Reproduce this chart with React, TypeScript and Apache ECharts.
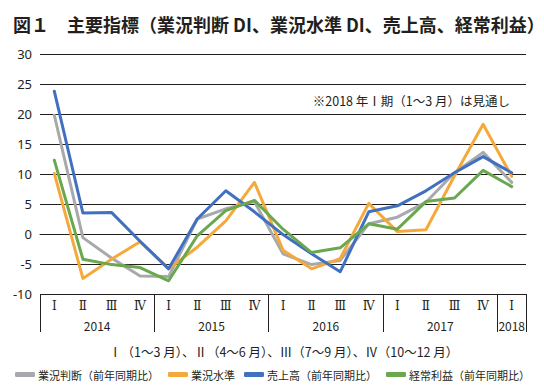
import React, { useEffect, useRef } from "react";
import * as echarts from "echarts";

const quarters = ["Ⅰ", "Ⅱ", "Ⅲ", "Ⅳ", "Ⅰ", "Ⅱ", "Ⅲ", "Ⅳ", "Ⅰ", "Ⅱ", "Ⅲ", "Ⅳ", "Ⅰ", "Ⅱ", "Ⅲ", "Ⅳ", "Ⅰ"];
const years = ["2014", "2015", "2016", "2017", "2018"];
const yearBounds = [0, 4, 8, 12, 16, 17];
const yearCenters = [2, 6, 10, 14, 16.5];

const seriesNames = ["業況判断（前年同期比）", "業況水準", "売上高（前年同期比）", "経常利益（前年同期比）"];
const gyokyoHandan = [19.8, -0.6, -4.0, -7.0, -7.1, 2.5, 4.2, 5.4, -3.3, -5.1, -4.4, 1.7, 2.8, 5.3, 10.2, 13.6, 8.6];
const gyokyoSuijun = [10.1, -7.4, -4.2, -1.3, -5.8, -2.2, 2.2, 8.6, -2.7, -5.8, -4.1, 5.1, 0.4, 0.7, 9.7, 18.3, 9.6];
const uriage = [23.8, 3.5, 3.6, -1.2, -5.8, 2.5, 7.2, 3.7, -0.1, -3.3, -6.3, 3.7, 4.7, 7.2, 10.2, 12.9, 10.2];
const keijo = [12.3, -4.2, -5.1, -5.6, -7.8, -0.3, 3.9, 5.6, 0.8, -3.1, -2.3, 1.7, 0.8, 5.4, 6.0, 10.6, 7.9];
const colors = ["#a7a9ac", "#f6a93b", "#4270c0", "#6aa84f"];

const ink = "#231f20";
const jp = "'Noto Sans CJK JP', 'Noto Sans', sans-serif";

export default function App() {
  const ref = useRef<HTMLDivElement>(null);
  useEffect(() => {
    if (!ref.current) return;
    const chart = echarts.init(ref.current, undefined, { renderer: "svg" });
    const values = [gyokyoHandan, gyokyoSuijun, uriage, keijo];
    chart.setOption({
      animation: false,
      backgroundColor: "#ffffff",
      title: [
        {
          text: "図１　主要指標（業況判断 DI、業況水準 DI、売上高、経常利益）",
          left: 8,
          top: 10,
          textStyle: { fontFamily: jp, fontSize: 18, fontWeight: "bold", color: ink },
        },
        {
          text: "※2018 年Ⅰ期（1〜3 月）は見通し",
          right: 29,
          top: 89,
          textStyle: { fontFamily: jp, fontSize: 12.5, fontWeight: "normal", color: ink },
        },
        {
          text: "Ⅰ（1〜3 月）、Ⅱ（4〜6 月）、Ⅲ（7〜9 月）、Ⅳ（10〜12 月）",
          left: 104,
          top: 340,
          textStyle: { fontFamily: jp, fontSize: 12.5, fontWeight: "normal", color: ink },
        },
      ],
      legend: {
        left: 15,
        top: 369,
        padding: [0, 0, 0, 0],
        itemWidth: 20,
        itemHeight: 5,
        itemGap: 9,
        icon: "roundRect",
        textStyle: { fontFamily: jp, fontSize: 11, color: ink, padding: [0, 0, 0, -2] },
        data: seriesNames,
      },
      grid: { left: 40, right: 18, top: 54, bottom: 97, containLabel: false },
      xAxis: [
        {
          type: "category",
          data: quarters,
          boundaryGap: true,
          axisLine: { show: true, lineStyle: { color: ink, width: 1 } },
          axisTick: { show: false },
          axisLabel: {
            margin: 6,
            fontFamily: "'DejaVu Serif', 'Liberation Serif', serif",
            fontSize: 12,
            color: ink,
          },
          splitLine: { show: false },
        },
        {
          type: "value",
          position: "bottom",
          min: 0,
          max: 17,
          axisLine: { show: false },
          axisTick: {
            show: true,
            customValues: yearBounds,
            length: 38,
            inside: false,
            lineStyle: { color: ink, width: 1 },
          },
          axisLabel: {
            customValues: yearCenters,
            margin: 25,
            fontFamily: jp,
            fontSize: 12,
            color: ink,
            formatter: (v: number) => years[yearCenters.indexOf(v)] ?? "",
          },
          splitLine: { show: false },
        },
      ],
      yAxis: {
        type: "value",
        min: -10,
        max: 30,
        interval: 5,
        axisLine: { show: false },
        axisTick: { show: false },
        axisLabel: { margin: 8, fontFamily: "'Noto Sans', sans-serif", fontSize: 13, color: ink },
        splitLine: { show: true, lineStyle: { color: ink, width: 1 } },
      },
      series: seriesNames.map((name, i) => ({
        name,
        type: "line",
        xAxisIndex: 0,
        data: values[i],
        symbol: "none",
        lineStyle: { width: 3, color: colors[i], cap: "round", join: "round" },
        itemStyle: { color: colors[i] },
      })),
    });
    return () => chart.dispose();
  }, []);
  return <div ref={ref} style={{ width: 544, height: 391, margin: -8 }} />;
}
